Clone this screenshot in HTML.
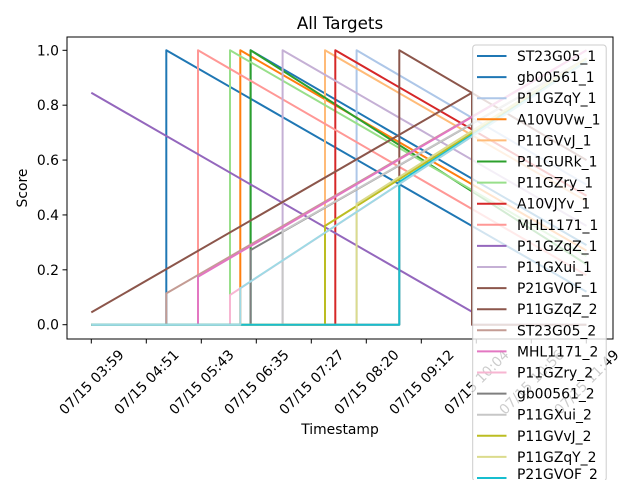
<!DOCTYPE html>
<html><head><meta charset="utf-8"><style>
html,body{margin:0;padding:0;background:#fff;width:640px;height:480px;overflow:hidden;}
svg{display:block;font-family:"DejaVu Sans","Liberation Sans",sans-serif;}
</style></head><body>
<svg id="chart" width="640" height="480" viewBox="0 0 640 480">
<rect width="640" height="480" fill="#fff"/>
<text x="340" y="29" font-size="16.7" text-anchor="middle">All Targets</text>
<g id="plot"></g>
<rect x="67" y="37" width="546" height="302" fill="none" stroke="#000" stroke-width="1"/>
<g id="xticks"></g><g id="yticks"></g>
<text x="340" y="434" font-size="13.9" text-anchor="middle">Timestamp</text>
<text x="27" y="188" font-size="13.9" text-anchor="middle" transform="rotate(-90,27,188)">Score</text>
<g id="legend"></g>
</svg>
<script>
const seriesNames = ["ST23G05_1","gb00561_1","P11GZqY_1","A10VUVw_1","P11GVvJ_1","P11GURk_1","P11GZry_1","A10VJYv_1","MHL1171_1","P11GZqZ_1","P11GXui_1","P21GVOF_1","P11GZqZ_2","ST23G05_2","MHL1171_2","P11GZry_2","gb00561_2","P11GXui_2","P11GVvJ_2","P11GZqY_2","P21GVOF_2","A10VUVw_2"];
const seriesColors = ["#1f77b4","#1f77b4","#aec7e8","#ff7f0e","#ffbb78","#2ca02c","#98df8a","#d62728","#ff9896","#9467bd","#c5b0d5","#8c564b","#8c564b","#c49c94","#e377c2","#f7b6d2","#7f7f7f","#c7c7c7","#bcbd22","#dbdb8d","#17becf","#9edae5"];
// minutes since 07/15 03:59
const startT = [71.2,151.2,251.8,141.4,221.8,151.2,131.6,231.6,101.3,0,181.6,292.3,0,71.2,101.3,131.6,151.2,181.6,221.8,251.8,292.3,141.4];
const startV = [1,1,1,1,1,1,1,1,1,0.845,1,1,0.045,0.114,0.175,0.108,0.272,0.34,0.36,0.44,0.52,0.133];
const endT = [470,470,470,470,470,470,470,470,470,361.3,470,470,361.3,470,470,470,470,470,470,470,470,470];
const endV = [0.12,0.29,0.51,0.27,0.45,0.22,0.25,0.47,0.18,0.047,0.36,0.60,0.845,1.0,1.0,0.96,0.97,0.97,0.96,0.97,0.96,0.96];
const lastT = 470;
const xTickMinutes = [0,52.2,104.4,156.6,208.8,261,313.2,365.4,417.6,469.8];
const xTickLabels = ["07/15 03:59","07/15 04:51","07/15 05:43","07/15 06:35","07/15 07:27","07/15 08:20","07/15 09:12","07/15 10:04","07/15 10:56","07/15 11:49"];
const yTickValues = [0,0.2,0.4,0.6,0.8,1.0];
const yTickLabels = ["0.0","0.2","0.4","0.6","0.8","1.0"];

const NS="http://www.w3.org/2000/svg";
function xScale(t){return 91.3 + t*(55/52.2);}
function yScale(v){return 324.7 - v*274.4;}
function mk(tag,attrs,parent){const e=document.createElementNS(NS,tag);for(const k in attrs)e.setAttribute(k,attrs[k]);parent.appendChild(e);return e;}

const plot=document.getElementById('plot');
seriesNames.forEach((n,i)=>{
  const pts=[];
  if(startT[i]>0){pts.push([0,0]);pts.push([startT[i],0]);}
  pts.push([startT[i],startV[i]]);
  pts.push([endT[i],endV[i]]);
  if(endT[i]<lastT){pts.push([endT[i],0]);pts.push([lastT,0]);}
  const p=mk('polyline',{points:pts.map(q=>xScale(q[0]).toFixed(1)+','+yScale(q[1]).toFixed(1)).join(' '),fill:'none',stroke:seriesColors[i],'stroke-width':2,'stroke-linejoin':'round'},plot);
  
  
});

const xt=document.getElementById('xticks');
xTickMinutes.forEach((m,i)=>{
  const x=xScale(m);
  const l=mk('line',{x1:x,y1:339,x2:x,y2:343.5,stroke:'#000','stroke-width':1},xt);
  
  
  const t=mk('text',{x:x,y:387,'font-size':13.9,'text-anchor':'middle',transform:'rotate(-45,'+x+',382)'},xt);
  t.textContent=xTickLabels[i];
  
  
});
const yt=document.getElementById('yticks');
yTickValues.forEach((v,i)=>{
  const y=yScale(v);
  const l=mk('line',{x1:62.5,y1:y,x2:67,y2:y,stroke:'#000','stroke-width':1},yt);
  
  
  const t=mk('text',{x:59,y:y+5,'font-size':13.9,'text-anchor':'end'},yt);
  t.textContent=yTickLabels[i];
  
  
});
const lg=document.getElementById('legend');
mk('rect',{x:472.7,y:45,width:133.5,height:436,rx:3,fill:'#fff','fill-opacity':0.8,stroke:'#cccccc','stroke-width':1},lg);
seriesNames.forEach((n,i)=>{
  const y=56+i*21.1;
  if(y>485) return;
  const l=mk('line',{x1:477,y1:y,x2:506.5,y2:y,stroke:seriesColors[i],'stroke-width':2},lg);
  
  
  const t=mk('text',{x:517,y:Math.min(y+5,479),'font-size':13.9},lg);
  t.textContent=n;
  
  
});
</script>
</body></html>
